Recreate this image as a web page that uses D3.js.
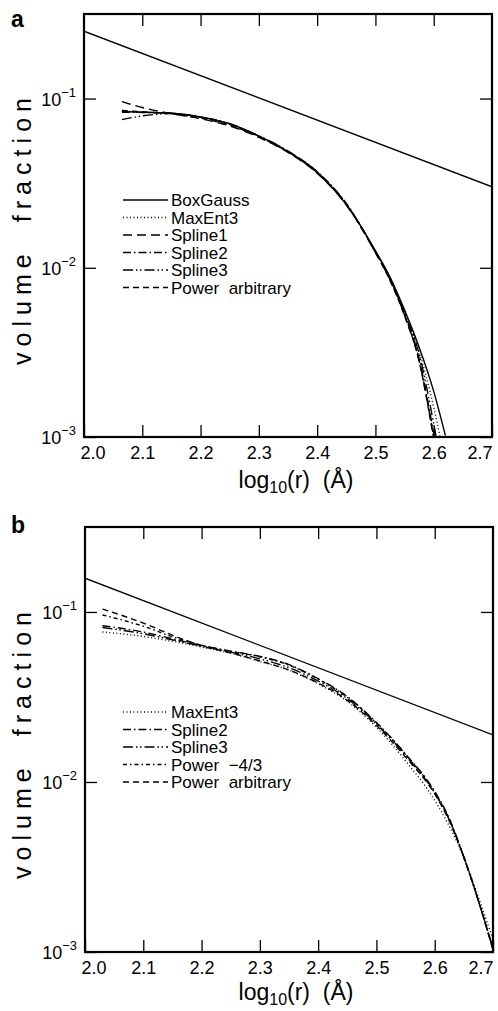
<!DOCTYPE html>
<html><head><meta charset="utf-8">
<script src="https://cdn.jsdelivr.net/npm/d3@7"></script>
<style>
html,body{margin:0;padding:0;background:#fff;}
svg text{font-family:"Liberation Sans",Arial,sans-serif;fill:#000;}
</style></head>
<body>
<svg id="chart" width="498" height="1011"></svg>
<script>
// ---------- data ----------
const xTicks = [2.0, 2.1, 2.2, 2.3, 2.4, 2.5, 2.6, 2.7];
const yTicks = [1e-3, 1e-2, 1e-1];
const yTickExps = ["\u22123", "\u22122", "\u22121"];
const yDomain = [1e-3, 0.316];
const xDomain = [2.0, 2.7];

// panel a
const aX = [2.065, 2.1, 2.15, 2.2, 2.25, 2.3, 2.35, 2.4, 2.45, 2.5, 2.525, 2.55, 2.575, 2.6, 2.62];
const aBoxGauss = [0.0838, 0.0830, 0.0820, 0.0780, 0.0710, 0.0600, 0.0485, 0.0365, 0.0236, 0.0126, 0.0088, 0.00562, 0.00339, 0.00186, 0.00102];
const aMaxEnt3  = [0.0845, 0.0832, 0.0818, 0.0778, 0.0708, 0.0598, 0.0486, 0.0368, 0.0238, 0.0125, 0.0087, 0.0055, 0.0032, 0.0015, 0.0007];
const aSpline1  = [0.0960, 0.0885, 0.0815, 0.0760, 0.0690, 0.0590, 0.0480, 0.0362, 0.0235, 0.0123, 0.0085, 0.00525, 0.00282, 0.0010, 0.0004];
const aSpline2  = [0.0830, 0.0828, 0.0820, 0.0775, 0.0705, 0.0600, 0.0488, 0.0370, 0.0240, 0.0124, 0.0086, 0.0053, 0.0029, 0.00105, 0.00042];
const aSpline3  = [0.0751, 0.0790, 0.0815, 0.0778, 0.0710, 0.0602, 0.0490, 0.0368, 0.0238, 0.0125, 0.0086, 0.0054, 0.0031, 0.0012, 0.0005];
const aPowerArb = [0.0850, 0.0835, 0.0812, 0.0765, 0.0695, 0.0595, 0.0484, 0.0366, 0.0237, 0.0123, 0.0084, 0.0052, 0.0028, 0.00098, 0.0004];
const aRefX = [2.0, 2.7];
const aRefY = [0.250, 0.0301];

// panel b
const bX = [2.03, 2.1, 2.15, 2.2, 2.25, 2.3, 2.35, 2.4, 2.45, 2.5, 2.55, 2.6, 2.625, 2.65, 2.675, 2.7, 2.715];
const bMaxEnt3  = [0.0763, 0.0718, 0.0672, 0.0622, 0.0572, 0.0512, 0.0455, 0.0378, 0.0298, 0.0210, 0.0133, 0.0078, 0.0055, 0.0036, 0.0021, 0.0012, 0.0009];
const bSpline2  = [0.0830, 0.0762, 0.0695, 0.0635, 0.0588, 0.0548, 0.0490, 0.0405, 0.0318, 0.0224, 0.0146, 0.0088, 0.0061, 0.0036, 0.0020, 0.00105, 0.0007];
const bSpline3  = [0.0810, 0.0745, 0.0685, 0.0630, 0.0580, 0.0530, 0.0470, 0.0392, 0.0309, 0.0219, 0.0143, 0.0086, 0.0060, 0.00363, 0.0020, 0.00105, 0.0007];
const bPower43  = [0.0960, 0.0825, 0.0715, 0.0638, 0.0586, 0.0545, 0.0487, 0.0402, 0.0315, 0.0222, 0.0145, 0.0087, 0.0060, 0.0036, 0.0020, 0.00104, 0.0007];
const bPowerArb = [0.1040, 0.0860, 0.0730, 0.0632, 0.0575, 0.0515, 0.0455, 0.0382, 0.0302, 0.0215, 0.0140, 0.0085, 0.0059, 0.0036, 0.0020, 0.00103, 0.0007];
const bRefX = [2.0, 2.7];
const bRefY = [0.158, 0.0189];

const aNames = ["BoxGauss", "MaxEnt3", "Spline1", "Spline2", "Spline3", "Power  arbitrary"];
const bNames = ["MaxEnt3", "Spline2", "Spline3", "Power  \u22124/3", "Power  arbitrary"];

// ---------- styles ----------
const dashOf = {
  "BoxGauss": null,
  "MaxEnt3": "1,2.5",
  "Spline1": "9,5",
  "Spline2": "8,3,1.5,3",
  "Spline3": "10,3,1.5,2.5,1.5,3",
  "Power  \u22124/3": "4,3,1.5,3",
  "Power  arbitrary": "6,4"
};

const svg = d3.select("#chart");

function drawPanel(cfg) {
  const {left, right, top, bottom, label, labelY, series, ref, names, legendY0, titleOff} = cfg;
  const x = d3.scaleLinear().domain(xDomain).range([left, right]);
  const y = d3.scaleLog().domain(yDomain).range([bottom, top]);
  const g = svg.append("g");
  const clipId = "clip" + label;
  svg.append("clipPath").attr("id", clipId).append("rect")
    .attr("x", left).attr("y", top).attr("width", right - left).attr("height", bottom - top);

  // axes (inside ticks)
  const ax = g.append("g").attr("transform", `translate(0,${bottom})`)
    .call(d3.axisBottom(x).tickValues(xTicks).tickSizeInner(-12).tickSizeOuter(0)
      .tickPadding(9).tickFormat(d3.format(".1f")));
  ax.selectAll("text").style("font-size", "18px")
    .attr("text-anchor", d => d === 2.0 ? "start" : d === 2.7 ? "end" : "middle")
    .attr("dx", d => d === 2.0 ? -4 : 0);
  g.append("g").attr("transform", `translate(0,${top})`)
    .call(d3.axisTop(x).tickValues(xTicks.slice(1, -1)).tickSizeInner(-12).tickSizeOuter(0).tickFormat(""));
  g.append("g").attr("transform", `translate(${left},0)`)
    .call(d3.axisLeft(y).tickValues(yTicks).tickSizeInner(-12).tickSizeOuter(0).tickFormat(""));
  g.append("g").attr("transform", `translate(${right},0)`)
    .call(d3.axisRight(y).tickValues(yTicks).tickSizeInner(-12).tickSizeOuter(0).tickFormat(""));
  g.selectAll(".domain").remove();
  g.selectAll(".tick line").attr("stroke", "#000").attr("stroke-width", 1.3);

  // y tick labels with superscripts
  yTicks.forEach((v, i) => {
    const t = g.append("text").attr("x", left - 8).attr("y", y(v) + 7)
      .attr("text-anchor", "end").style("font-size", "18px");
    t.append("tspan").text("10");
    t.append("tspan").attr("dy", -9).style("font-size", "13px").text(yTickExps[i]);
  });

  // frame
  g.append("rect").attr("x", left).attr("y", top).attr("width", right - left).attr("height", bottom - top)
    .attr("fill", "none").attr("stroke", "#000").attr("stroke-width", 2.2);

  // lines
  const line = d3.line().x(d => x(d[0])).y(d => y(d[1])).curve(d3.curveMonotoneX);
  const lines = g.append("g").attr("clip-path", `url(#${clipId})`);
  lines.append("path").attr("d", line(ref.x.map((v, i) => [v, ref.y[i]])))
    .attr("fill", "none").attr("stroke", "#000").attr("stroke-width", 1.3);
  series.forEach(s => {
    lines.append("path").attr("d", line(s.x.map((v, i) => [v, s.y[i]])))
      .attr("fill", "none").attr("stroke", "#000").attr("stroke-width", 1.4)
      .attr("stroke-dasharray", dashOf[s.name]);
  });

  // legend
  names.forEach((n, i) => {
    const yy = legendY0 + i * 17.5;
    g.append("line").attr("x1", 123).attr("x2", 168).attr("y1", yy).attr("y2", yy)
      .attr("stroke", "#000").attr("stroke-width", 1.4).attr("stroke-dasharray", dashOf[n]);
    g.append("text").attr("x", 171).attr("y", yy + 6).style("font-size", "17px")
      .style("white-space", "pre").text(n);
  });

  // axis titles
  const xt = g.append("text").attr("x", 296).attr("y", bottom + titleOff).attr("text-anchor", "middle")
    .style("font-size", "23px").style("white-space", "pre");
  xt.append("tspan").text("log");
  xt.append("tspan").attr("dy", 5).style("font-size", "16px").text("10");
  xt.append("tspan").attr("dy", -5).text("(r)  (\u00c5)");

  const cy = (top + bottom) / 2 + 6;
  g.append("text").attr("transform", `translate(31,${cy}) rotate(-90)`)
    .attr("text-anchor", "middle").style("font-size", "25px")
    .attr("textLength", 267).attr("lengthAdjust", "spacing")
    .style("white-space", "pre").text("volume  fraction");

  // panel label
  g.append("text").attr("x", 11).attr("y", labelY).style("font-size", "23px").style("font-weight", "bold").text(label);
}

drawPanel({
  left: 84, right: 492, top: 14, bottom: 437, label: "a", labelY: 27, titleOff: 51,
  ref: {x: aRefX, y: aRefY}, names: aNames, legendY0: 200,
  series: [
    {name: "BoxGauss", x: aX, y: aBoxGauss},
    {name: "MaxEnt3", x: aX, y: aMaxEnt3},
    {name: "Spline1", x: aX, y: aSpline1},
    {name: "Spline2", x: aX, y: aSpline2},
    {name: "Spline3", x: aX, y: aSpline3},
    {name: "Power  arbitrary", x: aX, y: aPowerArb}
  ]
});

drawPanel({
  left: 85, right: 493, top: 527, bottom: 952, label: "b", labelY: 533, titleOff: 48,
  ref: {x: bRefX, y: bRefY}, names: bNames, legendY0: 712,
  series: [
    {name: "MaxEnt3", x: bX, y: bMaxEnt3},
    {name: "Spline2", x: bX, y: bSpline2},
    {name: "Spline3", x: bX, y: bSpline3},
    {name: "Power  \u22124/3", x: bX, y: bPower43},
    {name: "Power  arbitrary", x: bX, y: bPowerArb}
  ]
});
</script>
</body></html>
